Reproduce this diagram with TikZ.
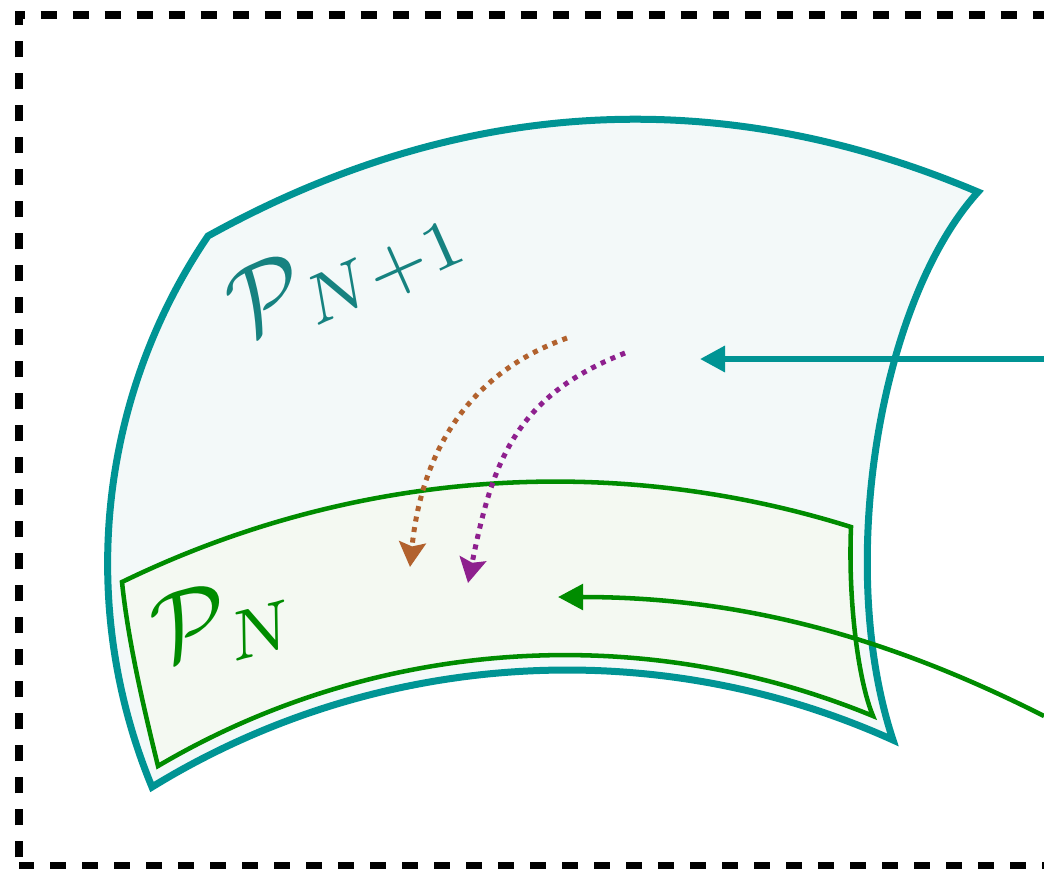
\documentclass[tikz,border=0pt]{standalone}
\usetikzlibrary{arrows.meta}
\definecolor{tealc}{RGB}{0,148,148}
\definecolor{tealfill}{RGB}{243,249,249}
\definecolor{greenc}{RGB}{0,140,0}
\definecolor{greenfill}{RGB}{244,249,242}
\definecolor{brownc}{RGB}{178,98,46}
\definecolor{purplec}{RGB}{142,32,142}
\definecolor{tealtext}{RGB}{22,130,128}
\begin{document}
\begin{tikzpicture}[x=0.75pt,y=-0.75pt,
  outer/.style={draw=tealc,fill=tealfill,line width=5.25pt},
  inner/.style={draw=greenc,fill=greenfill,line width=3.4pt},
  frame/.style={draw=black,line width=6pt,dash pattern=on 12pt off 12pt,dash phase=17.5pt},
  tealarrow/.style={draw=tealc,line width=4.1pt,-{Triangle[length=18.75pt,width=19pt]}},
  greenarrow/.style={draw=greenc,line width=3.4pt,-{Triangle[length=18.75pt,width=19pt]}},
  dotarrow/.style={line width=3.75pt,dash pattern=on 3.75pt off 4.25pt,-{Stealth[length=18.5pt,width=20pt,inset=3pt]}},
  biglabel/.style={font=\normalsize,inner sep=0pt,scale=7.4}
]
\useasboundingbox (0,0) rectangle (1044,868);
\clip (0,0) rectangle (1044,868);
% frame
\coordinate (f1) at (19,866);
\coordinate (f2) at (19,15);
\coordinate (f3) at (1100,15);
\coordinate (f4) at (1100,866);
\draw[frame] (f1) -- (f2) -- (f3) -- (f4) -- cycle;
% outer surface
\coordinate (o1) at (208,236);
\coordinate (o2) at (978,192);
\coordinate (o3) at (893,740);
\coordinate (o4) at (152,787);
\path[outer] (o1) .. controls (457,98) and (716,81) .. (o2)
  .. controls (880,300) and (835,565) .. (o3)
  .. controls (654,632) and (375,650) .. (o4)
  .. controls (77,606) and (98,398) .. cycle;
% inner surface
\coordinate (i1) at (122,582);
\coordinate (i2) at (851,527);
\coordinate (i3) at (873,716);
\coordinate (i4) at (158,766);
\path[inner] (i1) .. controls (350,471) and (609,451) .. (i2)
  .. controls (848,600) and (858,680) .. (i3)
  .. controls (640,620) and (375,638) .. (i4)
  .. controls (143,705) and (128,640) .. cycle;
% labels
\node[biglabel,text=tealtext,rotate=24] (lN1) at (348,272) {$\mathcal{P}_{N+1}$};
\node[biglabel,text=greenc,rotate=15] (lN) at (225,622) {$\mathcal{P}_{N}$};
% arrows
\coordinate (ta1) at (1044,359);
\coordinate (ta2) at (700,359);
\draw[tealarrow] (ta1) -- (ta2);
\coordinate (ga1) at (1044,716);
\coordinate (ga2) at (558,597);
\draw[greenarrow] (ga1) .. controls (884,635) and (738,597) .. (ga2);
\coordinate (b1) at (567,338);
\coordinate (b2) at (410,567);
\draw[dotarrow,brownc] (b1) .. controls (464,375) and (421,457) .. (b2);
\coordinate (p1) at (625,353);
\coordinate (p2) at (468,583);
\draw[dotarrow,purplec] (p1) .. controls (513,397) and (492,465) .. (p2);
\end{tikzpicture}
\end{document}
